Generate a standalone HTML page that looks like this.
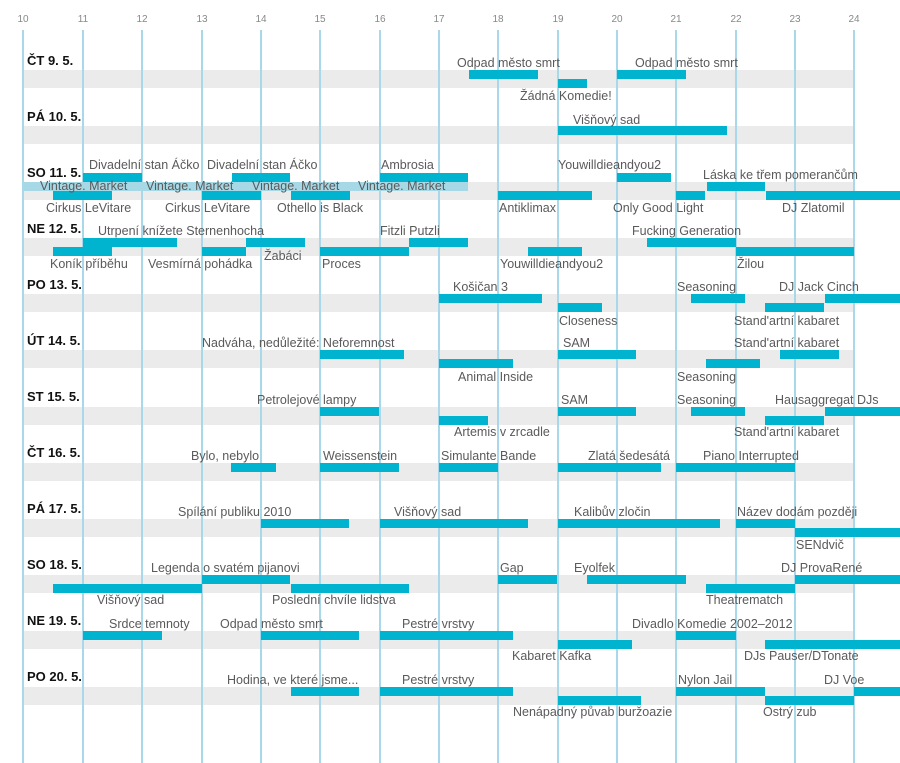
<!DOCTYPE html>
<html><head><meta charset="utf-8"><style>
html,body{margin:0;padding:0;background:#fff;}
svg{display:block;}
.l{font-family:"Liberation Sans",sans-serif;font-size:12.5px;fill:#5a5a5a;}
.d{font-family:"Liberation Sans",sans-serif;font-size:13px;font-weight:bold;fill:#111;}
.h{font-family:"Liberation Sans",sans-serif;font-size:10px;fill:#888;text-anchor:middle;}
</style></head><body>
<svg width="900" height="763" viewBox="0 0 900 763" xmlns="http://www.w3.org/2000/svg">
<g fill="#ebebeb">
<rect x="23" y="70" width="831" height="18"/><rect x="23" y="126" width="831" height="18"/>
<rect x="23" y="182" width="831" height="18"/><rect x="23" y="238" width="831" height="18"/>
<rect x="23" y="294" width="831" height="18"/><rect x="23" y="350" width="831" height="18"/>
<rect x="23" y="407" width="831" height="18"/><rect x="23" y="463" width="831" height="18"/>
<rect x="23" y="519" width="831" height="18"/><rect x="23" y="575" width="831" height="18"/>
<rect x="23" y="631" width="831" height="18"/><rect x="23" y="687" width="831" height="18"/>
</g>
<g stroke="#a8d8ea" stroke-width="2">
<line x1="23" y1="30" x2="23" y2="763"/><line x1="83" y1="30" x2="83" y2="763"/><line x1="142" y1="30" x2="142" y2="763"/><line x1="202" y1="30" x2="202" y2="763"/><line x1="261" y1="30" x2="261" y2="763"/><line x1="320" y1="30" x2="320" y2="763"/><line x1="380" y1="30" x2="380" y2="763"/><line x1="439" y1="30" x2="439" y2="763"/><line x1="498" y1="30" x2="498" y2="763"/><line x1="558" y1="30" x2="558" y2="763"/><line x1="617" y1="30" x2="617" y2="763"/><line x1="676" y1="30" x2="676" y2="763"/><line x1="736" y1="30" x2="736" y2="763"/><line x1="795" y1="30" x2="795" y2="763"/><line x1="854" y1="30" x2="854" y2="763"/>
</g>
<g>
<text class="h" x="23" y="22">10</text><text class="h" x="83" y="22">11</text><text class="h" x="142" y="22">12</text><text class="h" x="202" y="22">13</text><text class="h" x="261" y="22">14</text><text class="h" x="320" y="22">15</text><text class="h" x="380" y="22">16</text><text class="h" x="439" y="22">17</text><text class="h" x="498" y="22">18</text><text class="h" x="558" y="22">19</text><text class="h" x="617" y="22">20</text><text class="h" x="676" y="22">21</text><text class="h" x="736" y="22">22</text><text class="h" x="795" y="22">23</text><text class="h" x="854" y="22">24</text>
</g>
<rect x="23" y="182" width="445" height="9" fill="#a6d8e6"/>
<g fill="#00b4d0">
<rect x="469" y="70" width="69" height="9"/><rect x="558" y="79" width="29" height="9"/><rect x="617" y="70" width="69" height="9"/>
<rect x="558" y="126" width="169" height="9"/>
<rect x="83" y="173" width="59" height="9"/><rect x="232" y="173" width="58" height="9"/><rect x="380" y="173" width="88" height="9"/><rect x="617" y="173" width="54" height="9"/>
<rect x="707" y="182" width="58" height="9"/>
<rect x="53" y="191" width="59" height="9"/><rect x="202" y="191" width="59" height="9"/><rect x="291" y="191" width="59" height="9"/><rect x="498" y="191" width="94" height="9"/><rect x="676" y="191" width="29" height="9"/><rect x="766" y="191" width="134" height="9"/>
<rect x="83" y="238" width="94" height="9"/><rect x="246" y="238" width="59" height="9"/><rect x="409" y="238" width="59" height="9"/><rect x="647" y="238" width="89" height="9"/>
<rect x="53" y="247" width="59" height="9"/><rect x="202" y="247" width="44" height="9"/><rect x="320" y="247" width="89" height="9"/><rect x="528" y="247" width="54" height="9"/><rect x="736" y="247" width="118" height="9"/>
<rect x="439" y="294" width="103" height="9"/><rect x="691" y="294" width="54" height="9"/><rect x="825" y="294" width="75" height="9"/>
<rect x="558" y="303" width="44" height="9"/><rect x="765" y="303" width="59" height="9"/>
<rect x="320" y="350" width="84" height="9"/><rect x="558" y="350" width="78" height="9"/><rect x="780" y="350" width="59" height="9"/>
<rect x="439" y="359" width="74" height="9"/><rect x="706" y="359" width="54" height="9"/>
<rect x="320" y="407" width="59" height="9"/><rect x="558" y="407" width="78" height="9"/><rect x="691" y="407" width="54" height="9"/><rect x="825" y="407" width="75" height="9"/>
<rect x="439" y="416" width="49" height="9"/><rect x="765" y="416" width="59" height="9"/>
<rect x="231" y="463" width="45" height="9"/><rect x="320" y="463" width="79" height="9"/><rect x="439" y="463" width="59" height="9"/><rect x="558" y="463" width="103" height="9"/><rect x="676" y="463" width="119" height="9"/>
<rect x="261" y="519" width="88" height="9"/><rect x="380" y="519" width="148" height="9"/><rect x="558" y="519" width="162" height="9"/><rect x="736" y="519" width="59" height="9"/>
<rect x="795" y="528" width="105" height="9"/>
<rect x="202" y="575" width="88" height="9"/><rect x="498" y="575" width="59" height="9"/><rect x="587" y="575" width="99" height="9"/><rect x="795" y="575" width="105" height="9"/>
<rect x="53" y="584" width="149" height="9"/><rect x="291" y="584" width="118" height="9"/><rect x="706" y="584" width="89" height="9"/>
<rect x="83" y="631" width="79" height="9"/><rect x="261" y="631" width="98" height="9"/><rect x="380" y="631" width="133" height="9"/><rect x="676" y="631" width="60" height="9"/>
<rect x="558" y="640" width="74" height="9"/><rect x="765" y="640" width="135" height="9"/>
<rect x="291" y="687" width="68" height="9"/><rect x="380" y="687" width="133" height="9"/><rect x="676" y="687" width="89" height="9"/><rect x="854" y="687" width="46" height="9"/>
<rect x="558" y="696" width="83" height="9"/><rect x="765" y="696" width="89" height="9"/>
</g>
<g>
<text class="d" x="27" y="65">ČT 9. 5.</text><text class="d" x="27" y="121">PÁ 10. 5.</text><text class="d" x="27" y="177">SO 11. 5.</text><text class="d" x="27" y="233">NE 12. 5.</text><text class="d" x="27" y="289">PO 13. 5.</text><text class="d" x="27" y="345">ÚT 14. 5.</text><text class="d" x="27" y="401">ST 15. 5.</text><text class="d" x="27" y="457">ČT 16. 5.</text><text class="d" x="27" y="513">PÁ 17. 5.</text><text class="d" x="27" y="569">SO 18. 5.</text><text class="d" x="27" y="625">NE 19. 5.</text><text class="d" x="27" y="681">PO 20. 5.</text>
</g>
<g>
<text class="l" x="457" y="67">Odpad město smrt</text><text class="l" x="520" y="100">Žádná Komedie!</text><text class="l" x="635" y="67">Odpad město smrt</text>
<text class="l" x="573" y="124">Višňový sad</text>
<text class="l" x="89" y="169">Divadelní stan Áčko</text><text class="l" x="207" y="169">Divadelní stan Áčko</text><text class="l" x="381" y="169">Ambrosia</text><text class="l" x="558" y="169">Youwilldieandyou2</text><text class="l" x="703" y="179">Láska ke třem pomerančům</text>
<text class="l" x="40" y="190">Vintage. Market</text><text class="l" x="146" y="190">Vintage. Market</text><text class="l" x="252" y="190">Vintage. Market</text><text class="l" x="358" y="190">Vintage. Market</text>
<text class="l" x="46" y="212">Cirkus LeVitare</text><text class="l" x="165" y="212">Cirkus LeVitare</text><text class="l" x="277" y="212">Othello is Black</text><text class="l" x="499" y="212">Antiklimax</text><text class="l" x="613" y="212">Only Good Light</text><text class="l" x="782" y="212">DJ Zlatomil</text>
<text class="l" x="98" y="235">Utrpení knížete Sternenhocha</text><text class="l" x="380" y="235">Fitzli Putzli</text><text class="l" x="632" y="235">Fucking Generation</text>
<text class="l" x="50" y="268">Koník příběhu</text><text class="l" x="148" y="268">Vesmírná pohádka</text><text class="l" x="264" y="260">Žabáci</text><text class="l" x="322" y="268">Proces</text><text class="l" x="500" y="268">Youwilldieandyou2</text><text class="l" x="737" y="268">Žilou</text>
<text class="l" x="453" y="291">Košičan 3</text><text class="l" x="677" y="291">Seasoning</text><text class="l" x="779" y="291">DJ Jack Cinch</text>
<text class="l" x="559" y="325">Closeness</text><text class="l" x="734" y="325">Stand'artní kabaret</text>
<text class="l" x="202" y="347">Nadváha, nedůležité: Neforemnost</text><text class="l" x="563" y="347">SAM</text><text class="l" x="734" y="347">Stand'artní kabaret</text>
<text class="l" x="458" y="381">Animal Inside</text><text class="l" x="677" y="381">Seasoning</text>
<text class="l" x="257" y="404">Petrolejové lampy</text><text class="l" x="561" y="404">SAM</text><text class="l" x="677" y="404">Seasoning</text><text class="l" x="775" y="404">Hausaggregat DJs</text>
<text class="l" x="454" y="436">Artemis v zrcadle</text><text class="l" x="734" y="436">Stand'artní kabaret</text>
<text class="l" x="191" y="460">Bylo, nebylo</text><text class="l" x="323" y="460">Weissenstein</text><text class="l" x="441" y="460">Simulante Bande</text><text class="l" x="588" y="460">Zlatá šedesátá</text><text class="l" x="703" y="460">Piano Interrupted</text>
<text class="l" x="178" y="516">Spílání publiku 2010</text><text class="l" x="394" y="516">Višňový  sad</text><text class="l" x="574" y="516">Kalibův zločin</text><text class="l" x="737" y="516">Název dodám později</text><text class="l" x="796" y="549">SENdvič</text>
<text class="l" x="151" y="572">Legenda o svatém pijanovi</text><text class="l" x="500" y="572">Gap</text><text class="l" x="574" y="572">Eyolfek</text><text class="l" x="781" y="572">DJ ProvaRené</text>
<text class="l" x="97" y="604">Višňový sad</text><text class="l" x="272" y="604">Poslední chvíle lidstva</text><text class="l" x="706" y="604">Theatrematch</text>
<text class="l" x="109" y="628">Srdce temnoty</text><text class="l" x="220" y="628">Odpad město smrt</text><text class="l" x="402" y="628">Pestré  vrstvy</text><text class="l" x="632" y="628">Divadlo Komedie 2002–2012</text>
<text class="l" x="512" y="660">Kabaret Kafka</text><text class="l" x="744" y="660">DJs Pauser/DTonate</text>
<text class="l" x="227" y="684">Hodina, ve které jsme...</text><text class="l" x="402" y="684">Pestré  vrstvy</text><text class="l" x="678" y="684">Nylon Jail</text><text class="l" x="824" y="684">DJ Voe</text>
<text class="l" x="513" y="716">Nenápadný půvab buržoazie</text><text class="l" x="763" y="716">Ostrý zub</text>
</g>
</svg>
</body></html>
